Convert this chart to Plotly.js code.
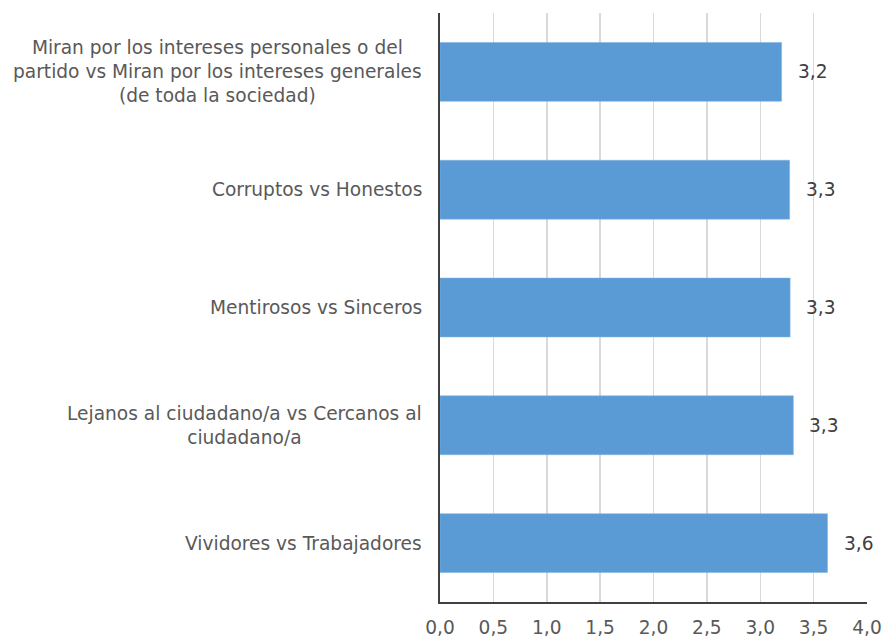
<!DOCTYPE html>
<html>
<head>
<meta charset="utf-8">
<script src="https://cdn.plot.ly/plotly-3.0.1.min.js"></script>
<style>html,body{margin:0;padding:0;background:#fff}#chart{width:882px;height:637px}</style>
</head>
<body>
<div id="chart"></div>
<script>
const categories = [
  "Miran por los intereses personales o del<br>partido vs Miran por los intereses generales<br>(de toda la sociedad)",
  "Corruptos vs Honestos",
  "Mentirosos vs Sinceros",
  "Lejanos al ciudadano/a vs Cercanos al<br>ciudadano/a",
  "Vividores vs Trabajadores"
];
const values = [3.20, 3.275, 3.28, 3.31, 3.63];
const valueLabels = ["3,2", "3,3", "3,3", "3,3", "3,6"];
const tickVals = [0, 0.5, 1, 1.5, 2, 2.5, 3, 3.5, 4];
const tickText = ["0,0", "0,5", "1,0", "1,5", "2,0", "2,5", "3,0", "3,5", "4,0"];

const FONT = "DejaVu Sans, Verdana, sans-serif";
const FS = 18.6;
const annotations = [];
categories.forEach((c, i) => {
  annotations.push({
    x: 0, xref: "paper", y: c, yref: "y",
    xanchor: "right", yanchor: "middle", xshift: -16,
    text: c, showarrow: false, align: "center",
    font: {family: FONT, size: FS, color: "#595959"}
  });
  annotations.push({
    x: values[i], xref: "x", y: c, yref: "y",
    xanchor: "left", yanchor: "middle", xshift: 14,
    text: valueLabels[i], showarrow: false,
    font: {family: FONT, size: FS, color: "#404040"}
  });
});

const data = [{
  type: "bar", orientation: "h",
  x: values, y: categories,
  marker: {color: "#5B9BD5", line: {color: "#7FB0DE", width: 0.5}},
  hoverinfo: "none"
}];

const layout = {
  width: 882, height: 637,
  margin: {l: 440, r: 15, t: 13, b: 35},
  paper_bgcolor: "#fff", plot_bgcolor: "#fff",
  showlegend: false,
  bargap: 0.5,
  xaxis: {
    range: [0, 4.0], tickvals: tickVals, ticktext: tickText,
    showgrid: true, gridcolor: "#d9d9d9", gridwidth: 1.5,
    showline: true, linecolor: "#404040", linewidth: 2,
    zeroline: false, ticks: "", ticklabelstandoff: 8,
    tickfont: {family: FONT, size: FS, color: "#595959"}
  },
  yaxis: {
    type: "category", autorange: "reversed",
    showticklabels: false, showgrid: false, zeroline: false,
    showline: true, linecolor: "#404040", linewidth: 2, ticks: ""
  },
  annotations: annotations
};

Plotly.newPlot("chart", data, layout, {displayModeBar: false, staticPlot: true});
</script>
</body>
</html>
